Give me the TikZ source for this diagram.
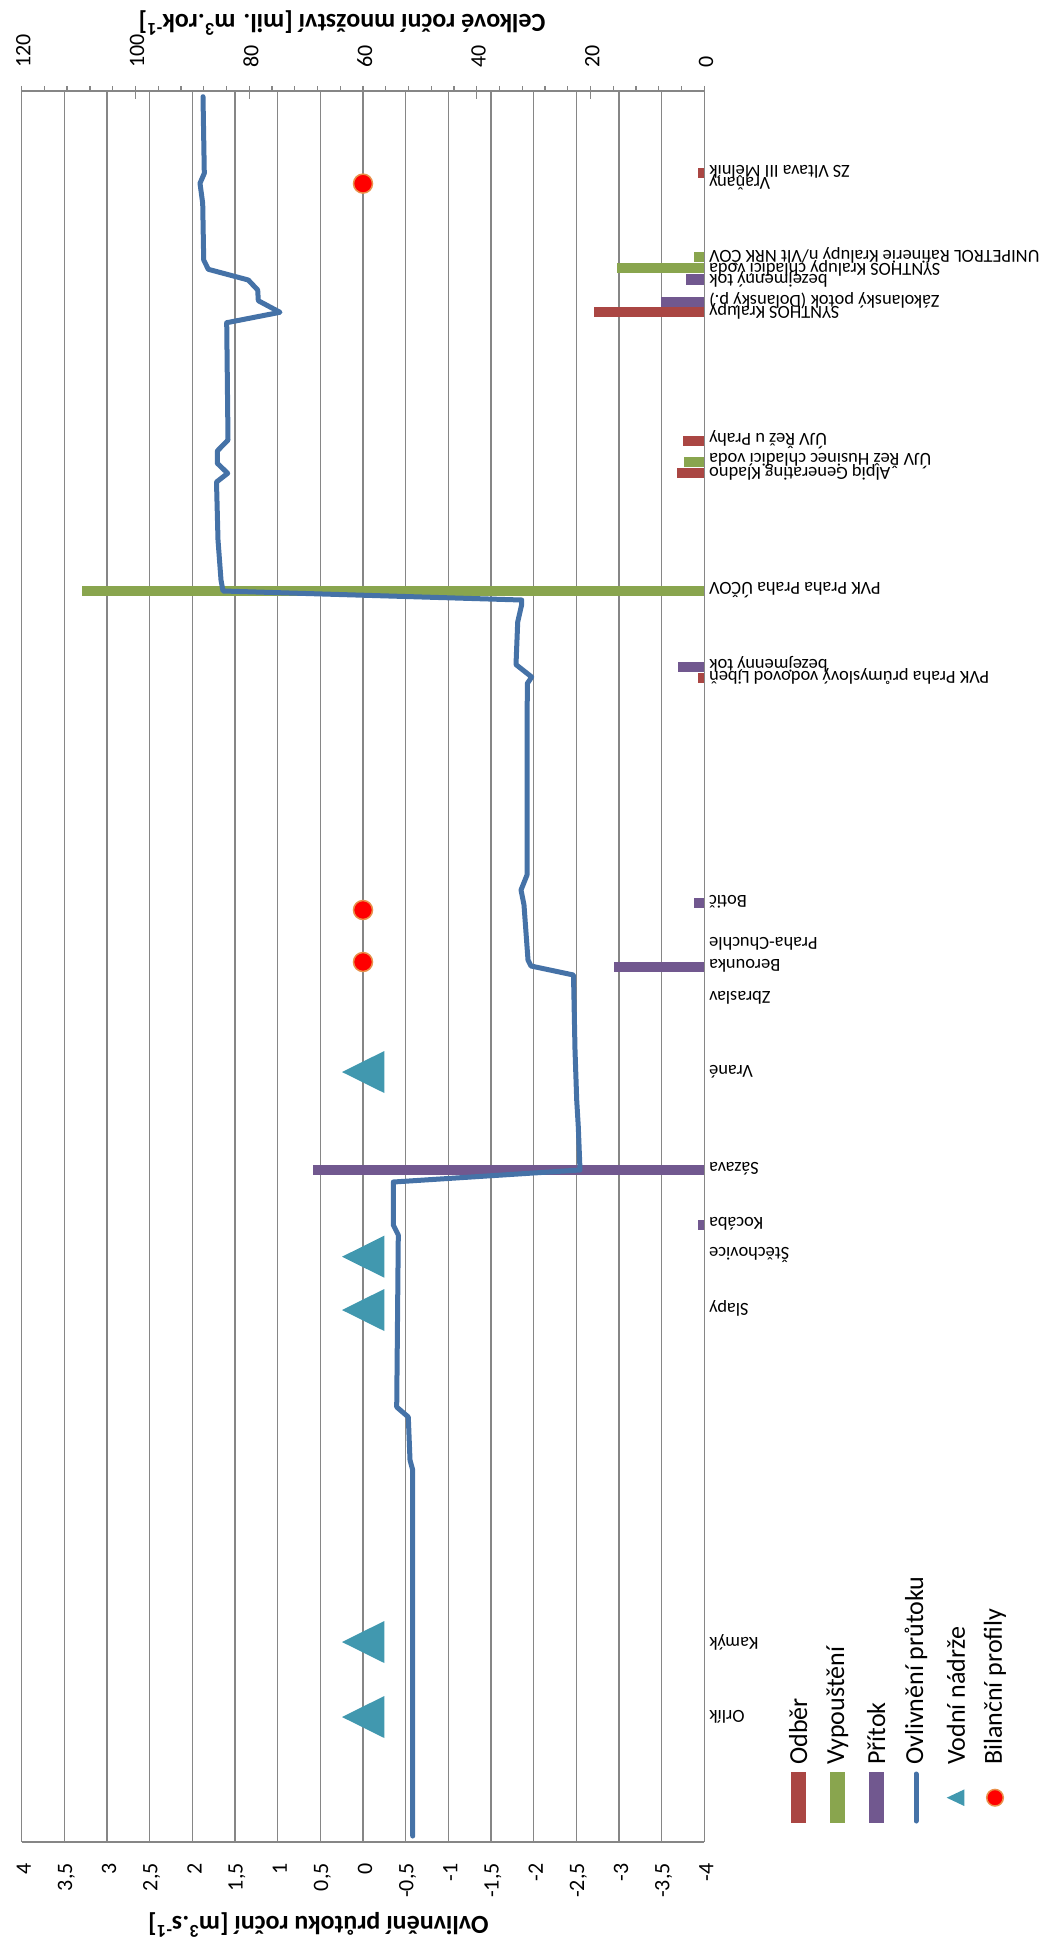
\documentclass[tikz,border=0pt]{standalone}
\usepackage{fontspec}
\setmainfont{Carlito}
\definecolor{odber}{HTML}{AA4643}
\definecolor{vypust}{HTML}{89A54E}
\definecolor{pritok}{HTML}{71588F}
\definecolor{ovliv}{HTML}{4572A7}
\definecolor{nadrz}{HTML}{4198AF}
\definecolor{profil}{HTML}{FF0000}
\definecolor{profilokraj}{HTML}{E9914B}
\definecolor{mrizka}{HTML}{868686}
\begin{document}
\begin{tikzpicture}[x=1pt, y=-1pt,
    catlabel/.style={rotate=180, anchor=east, inner sep=0pt, font=\fontsize{18.4}{20}\selectfont},
    ticklabel/.style={rotate=90, inner sep=0pt, font=\fontsize{22}{24}\selectfont},
    legtext/.style={rotate=90, anchor=west, inner sep=0pt, font=\fontsize{26}{28}\selectfont},
    axtitle/.style={rotate=180, inner sep=0pt, font=\bfseries\fontsize{26}{28}\selectfont},
    gridline/.style={draw=mrizka, line width=1.3}]
    \useasboundingbox (0,0) rectangle (1048,1948);
    % mrizka a osy
    \foreach \i in {0,...,16}
        \draw[gridline] ({21.7+\i*42.67},91) -- ({21.7+\i*42.67},1842);
    \draw[gridline] (21.7,91) -- (704.3,91);
    \draw[gridline] (21.7,1842) -- (704.3,1842);
    \foreach \v in {0,4,...,120}
        \draw[gridline] ({704.3-\v*5.689},91) -- ++(0,-5);
    \foreach \v in {0,20,...,120} {
        \draw[gridline] ({704.3-\v*5.689},86) -- ++(0,13);
        \node[ticklabel, anchor=west] (t\v) at ({706-\v*5.689},68) {\v};
    }
    \foreach \t [count=\i from 0] in {4,{3,5},3,{2,5},2,{1,5},1,{0,5},0,{-0,5},-1,{-1,5},-2,{-2,5},-3,{-3,5},-4}
        \node[ticklabel, anchor=east] (p\i) at ({23.7+\i*42.67},1863) {\t};
    \node[axtitle] (celkem) at (342,23) {Celkové roční množství [mil. m\textsuperscript{3}.rok\textsuperscript{-1}]};
    \node[axtitle] (ovlivneni) at (318.5,1925) {Ovlivnění průtoku roční [m\textsuperscript{3}.s\textsuperscript{-1}]};
    % sloupce
    \foreach \y/\l/\c in {172.7/6/odber, 256.7/10/vypust, 268/87/vypust, 279.5/18.7/pritok,
            301.7/43.3/pritok, 312/110/odber, 441/21/odber, 462/20/vypust, 472.7/27.3/odber,
            591/622/vypust, 666.7/26.7/pritok, 677.7/6/odber, 902.7/10/pritok, 967/90/pritok,
            1170/391/pritok, 1224.7/6.7/pritok}
        \fill[\c] ({704.3-\l},{\y-5.2}) rectangle (704.3,{\y+5.2});
    % ovlivneni prutoku
    \draw[ovliv, line width=5, line join=round, line cap=round]
        (203,96.7) -- (204.3,173.3) -- (200,183.3) -- (202.7,203.3) -- (203.7,260) -- (208.3,269.3)
        -- (248.3,280) -- (257.7,290) -- (258.3,300.7) -- (280,312.3) -- (226.7,322.7) -- (228,440)
        -- (217.3,451) -- (217.3,463.3) -- (227.7,473.3) -- (216.5,482) -- (218,540) -- (221,580)
        -- (223,591) -- (521.7,600) -- (521.7,604.5) -- (517.7,622) -- (516,664.6) -- (531.7,677)
        -- (527.3,683.5) -- (527,776) -- (527,875) -- (521,890) -- (524,905) -- (528,960)
        -- (531,966) -- (573.5,975) -- (575,1050) -- (576.7,1100) -- (578.3,1127) -- (580,1170)
        -- (393.3,1182) -- (393.3,1225) -- (398.3,1235) -- (396.7,1407) -- (408.3,1417)
        -- (410,1460) -- (412.7,1470) -- (412.7,1836);
    % vodni nadrze
    \foreach \y in {1072,1256.7,1310,1642,1717}
        \fill[nadrz] (342,\y) -- (384.3,{\y-21}) -- (384.3,{\y+21}) -- cycle;
    % bilancni profily
    \foreach \y in {183.6,910,962}
        \filldraw[fill=profil, draw=profilokraj, line width=1.5] (363,\y) circle (9.5);
    % popisky kategorii
    \foreach \y/\t [count=\i] in {172/ZS Vltava III Mělník, 182.5/Vraňany,
            256.7/{UNIPETROL Rafinerie Kralupy n/Vlt NRK ČOV}, 268/SYNTHOS Kralupy chladicí voda,
            279/bezejmenný tok, 300.5/Zákolanský potok (Dolanský p.), 311/SYNTHOS Kralupy,
            440/ÚJV Řež u Prahy, 461.5/ÚJV Řež Husinec chladicí voda, 472/Alpiq Generating Kladno,
            590.5/PVK Praha Praha ÚČOV, 664/bezejmenný tok, 677/PVK Praha průmyslový vodovod Libeň,
            902/Botič, 944/Praha-Chuchle, 965.5/Berounka, 997.5/Zbraslav, 1072/Vrané,
            1168.5/Sázava, 1223.5/Kocába, 1254.5/Štěchovice, 1308/Slapy, 1642/Kamýk, 1717/Orlík}
        \node[catlabel] (k\i) at (709,\y) {\t};
    % legenda
    \fill[odber] (790.8,1772) rectangle (805.8,1823);
    \fill[vypust] (829.8,1772) rectangle (844.8,1823);
    \fill[pritok] (868.8,1772) rectangle (883.8,1823);
    \draw[ovliv, line width=5, line cap=round] (916,1774) -- (916,1821);
    \fill[nadrz] (946.7,1797.7) -- (964.3,1789.4) -- (964.3,1806) -- cycle;
    \filldraw[fill=profil, draw=profilokraj, line width=1.5] (995,1797.7) circle (8.3);
    \node[legtext] (l1) at (798.3,1765) {Odběr};
    \node[legtext] (l2) at (837.3,1765) {Vypouštění};
    \node[legtext] (l3) at (876.3,1765) {Přítok};
    \node[legtext] (l4) at (916,1765) {Ovlivnění průtoku};
    \node[legtext] (l5) at (956,1765) {Vodní nádrže};
    \node[legtext] (l6) at (995,1765) {Bilanční profily};
\end{tikzpicture}
\end{document}
